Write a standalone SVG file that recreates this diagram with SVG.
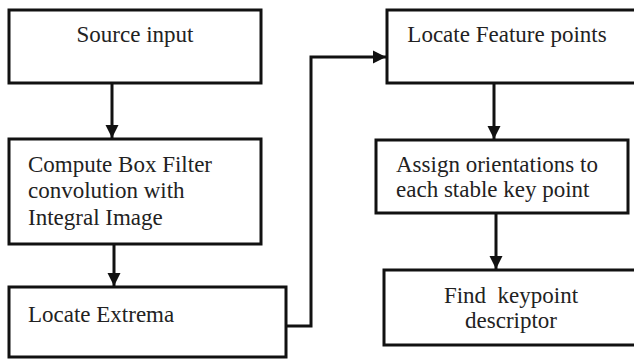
<svg xmlns="http://www.w3.org/2000/svg" width="634" height="360" viewBox="0 0 634 360">
<style>
.box{fill:#fff;stroke:#111;stroke-width:3}
.t{font-family:"Liberation Serif","Times New Roman",serif;font-size:23px;fill:#222}
.m{text-anchor:middle}
.c{fill:none;stroke:#111;stroke-width:3}
</style>
<defs>
<marker id="ah" markerUnits="userSpaceOnUse" markerWidth="14" markerHeight="14" refX="13" refY="7" orient="auto">
<path d="M0,0.5 L13,7 L0,13.5 Z" fill="#111"/>
</marker>
</defs>
<rect width="634" height="360" fill="#fff"/>
<g id="connectors">
<line class="c" x1="112" y1="83" x2="112" y2="138" marker-end="url(#ah)"/>
<line class="c" x1="114" y1="244" x2="114" y2="286" marker-end="url(#ah)"/>
<polyline class="c" points="286,326 311,326 311,57 386,57" marker-end="url(#ah)"/>
<line class="c" x1="494" y1="83" x2="494" y2="139" marker-end="url(#ah)"/>
<line class="c" x1="496" y1="213" x2="496" y2="269" marker-end="url(#ah)"/>
</g>
<g id="source">
<rect class="box" x="9" y="10" width="252" height="73"/>
<text class="t m" x="135" y="42">Source input</text>
</g>
<g id="boxfilter">
<rect class="box" x="9" y="139" width="252" height="105"/>
<text class="t" x="28" y="172">Compute Box Filter</text>
<text class="t" x="28" y="198">convolution with</text>
<text class="t" x="28" y="225">Integral Image</text>
</g>
<g id="extrema">
<rect class="box" x="9" y="287" width="277" height="70"/>
<text class="t" x="28" y="322">Locate Extrema</text>
</g>
<g id="feature">
<rect class="box" x="387" y="10" width="260" height="73"/>
<text class="t m" x="507" y="42">Locate Feature points</text>
</g>
<g id="orient">
<rect class="box" x="376" y="140" width="252" height="73"/>
<text class="t" x="396" y="172">Assign orientations to</text>
<text class="t" x="396" y="197">each stable key point</text>
</g>
<g id="descriptor">
<rect class="box" x="384" y="270" width="260" height="75"/>
<text class="t m" x="511" y="303" xml:space="preserve">Find  keypoint</text>
<text class="t m" x="511" y="328">descriptor</text>
</g>
</svg>
